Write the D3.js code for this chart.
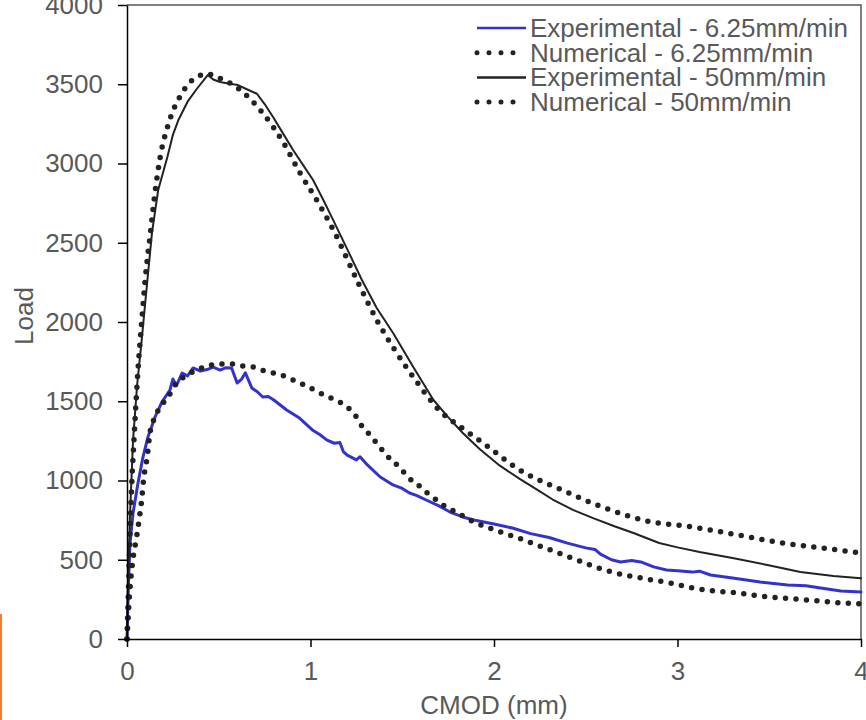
<!DOCTYPE html>
<html>
<head>
<meta charset="utf-8">
<script src="https://cdn.jsdelivr.net/npm/d3@7"></script>
<style>
  body { margin: 0; background: #fff; }
  svg { display: block; font-family: "Liberation Sans", Arial, sans-serif; }
</style>
</head>
<body>
<svg id="chart" width="866" height="720"></svg>
<script>
// CMOD (mm), Load pairs
let exp_slow = [[0,0],[0.008,350],[0.016,600],[0.033,795],[0.06,984],[0.087,1148],[0.114,1274],[0.153,1401],
  [0.19,1495],[0.234,1571],[0.25,1640],[0.27,1600],[0.30,1678],[0.33,1660],[0.36,1710],[0.40,1690],[0.436,1700],
  [0.47,1715],[0.507,1697],[0.54,1712],[0.57,1710],[0.60,1615],[0.625,1640],[0.645,1680],[0.68,1584],[0.71,1560],
  [0.74,1527],[0.77,1530],[0.80,1508],[0.87,1445],[0.94,1394],[1.01,1319],[1.05,1290],[1.09,1255],[1.13,1235],
  [1.16,1240],[1.18,1180],[1.20,1160],[1.25,1130],[1.27,1150],[1.31,1098],[1.38,1022],[1.45,972],[1.50,950],
  [1.54,921],[1.58,905],[1.63,877],[1.70,840],[1.76,801],[1.83,770],[1.89,751],[2.0,725],[2.1,700],[2.2,665],
  [2.3,640],[2.4,605],[2.5,575],[2.55,565],[2.58,535],[2.64,500],[2.69,486],[2.75,495],[2.80,486],[2.87,455],
  [2.94,435],[3.0,430],[3.08,422],[3.12,428],[3.18,404],[3.30,385],[3.45,360],[3.60,341],[3.70,336],[3.78,322],
  [3.89,303],[4.0,297]]

let num_slow = [[0,0],[0.015,300],[0.03,480],[0.054,656],[0.071,795],[0.08,877],[0.09,1003],[0.11,1148],
  [0.125,1300],[0.153,1401],[0.18,1464],[0.22,1520],[0.27,1615],[0.33,1666],[0.38,1697],[0.44,1722],[0.507,1735],
  [0.57,1735],[0.63,1722],[0.69,1716],[0.75,1691],[0.82,1672],[0.87,1653],[0.93,1621],[0.99,1590],[1.04,1558],
  [1.10,1527],[1.16,1495],[1.20,1464],[1.25,1401],[1.28,1344],[1.32,1293],[1.36,1237],[1.40,1180],[1.44,1129],
  [1.49,1079],[1.53,1022],[1.58,978],[1.63,927],[1.68,883],[1.73,839],[1.78,808],[1.84,770],[1.89,738],[2.0,690],
  [2.15,630],[2.3,565],[2.45,500],[2.59,440],[2.71,404],[2.83,379],[2.96,353],[3.08,322],[3.20,303],[3.33,290],
  [3.45,271],[3.57,259],[3.71,246],[3.83,233],[4.0,221]]

let exp_fast = [[0,0],[0.005,300],[0.016,770],[0.033,1255],[0.055,1600],[0.08,1886],[0.11,2250],[0.136,2561],
  [0.17,2833],[0.22,3041],[0.25,3180],[0.28,3274],[0.33,3390],[0.38,3470],[0.44,3558],[0.47,3530],[0.507,3514],
  [0.55,3505],[0.605,3495],[0.65,3470],[0.708,3440],[0.75,3375],[0.796,3293],[0.85,3190],[0.905,3085],[0.96,2990],
  [1.014,2896],[1.07,2770],[1.123,2644],[1.2,2460],[1.28,2265],[1.36,2090],[1.45,1931],[1.56,1716],[1.67,1508],
  [1.75,1400],[1.83,1300],[1.92,1200],[2.03,1095],[2.14,1010],[2.23,945],[2.32,880],[2.43,815],[2.54,763],
  [2.66,710],[2.76,669],[2.90,606],[3.0,578],[3.12,549],[3.30,511],[3.49,467],[3.67,423],[3.85,397],[4.0,383]]

let num_fast = [[0,0],[0.01,400],[0.02,800],[0.04,1300],[0.06,1700],[0.08,2000],[0.1,2280],[0.125,2536],
  [0.153,2820],[0.18,3035],[0.224,3243],[0.30,3445],[0.38,3546],[0.44,3565],[0.50,3540],[0.56,3508],[0.66,3420],
  [0.74,3318],[0.85,3136],[0.94,2946],[1.04,2757],[1.13,2568],[1.26,2246],[1.37,1994],[1.47,1804],[1.58,1621],
  [1.69,1457],[1.84,1319],[1.94,1237],[2.14,1066],[2.37,940],[2.59,833],[2.83,745],[3.08,707],[3.33,656],
  [3.57,606],[3.83,568],[4.0,543]]

let x_ticks = [0, 1, 2, 3, 4]
let y_ticks = [0, 500, 1000, 1500, 2000, 2500, 3000, 3500, 4000]
let legend_labels = ["Experimental - 6.25mm/min", "Numerical - 6.25mm/min", "Experimental - 50mm/min", "Numerical - 50mm/min"]

let margin = {top: 5, right: 5, bottom: 81, left: 127}
let width = 866, height = 720
let text_color = "#595959"

let scales = {
  x: d3.scaleLinear().domain([0, 4]).range([margin.left, width - margin.right]),
  y: d3.scaleLinear().domain([0, 4000]).range([height - margin.bottom, margin.top])
}

let svg = d3.select("#chart")

// frame: top and right edges
svg.append("path")
  .attr("d", `M${scales.x(0)},${scales.y(4000)}H${scales.x(4)}V${scales.y(0)}`)
  .attr("fill", "none")
  .attr("stroke", "#555")
  .attr("stroke-width", 1.5)

let series = [
  {data: exp_slow, color: "#3333cc", width: 3, dotted: false},
  {data: num_slow, color: "#222", width: 5.5, dotted: true},
  {data: exp_fast, color: "#222", width: 2, dotted: false},
  {data: num_fast, color: "#222", width: 5.5, dotted: true}
]

let line_plain = d3.line()
  .x(d => scales.x(d[0]))
  .y(d => scales.y(d[1]))
let line_smooth = d3.line()
  .x(d => scales.x(d[0]))
  .y(d => scales.y(d[1]))
  .curve(d3.curveMonotoneX)

svg.append("g")
  .selectAll("path")
  .data(series).enter()
  .append("path")
  .attr("d", d => d.dotted ? line_smooth(d.data) : line_plain(d.data))
  .attr("fill", "none")
  .attr("stroke", d => d.color)
  .attr("stroke-width", d => d.width)
  .attr("stroke-linejoin", "round")
  .attr("stroke-linecap", "round")
  .attr("stroke-dasharray", d => d.dotted ? "0,10.5" : null)

// axes
let x_axis = svg.append("g")
  .attr("transform", `translate(0, ${scales.y(0)})`)
  .call(d3.axisBottom(scales.x).tickValues(x_ticks).tickFormat(d3.format("d"))
    .tickSize(8).tickSizeOuter(0).tickPadding(15))
let y_axis = svg.append("g")
  .attr("transform", `translate(${scales.x(0)}, 0)`)
  .call(d3.axisLeft(scales.y).tickValues(y_ticks).tickFormat(d3.format("d"))
    .tickSize(9).tickSizeOuter(0).tickPadding(15))

for (let ax of [x_axis, y_axis]) {
  ax.select(".domain").attr("stroke", "#000").attr("stroke-width", 1.5)
  ax.selectAll(".tick line").attr("stroke", "#000").attr("stroke-width", 1.5)
  ax.selectAll(".tick text")
    .attr("fill", text_color)
    .style("font-size", "26px")
    .style("font-family", "Liberation Sans, Arial, sans-serif")
}

// axis titles
svg.append("text")
  .attr("x", (scales.x(0) + scales.x(4)) / 2)
  .attr("y", 714)
  .attr("text-anchor", "middle")
  .attr("fill", text_color)
  .style("font-size", "26px")
  .text("CMOD (mm)")

svg.append("text")
  .attr("transform", "translate(33, 316) rotate(-90)")
  .attr("text-anchor", "middle")
  .attr("fill", text_color)
  .style("font-size", "26px")
  .text("Load")

// legend
let legend = svg.append("g")
  .selectAll("g")
  .data(series).enter()
  .append("g")
  .attr("transform", (d, i) => `translate(0, ${28 + i * 24.7})`)

legend.append("line")
  .attr("x1", 477).attr("x2", d => d.dotted ? 525 : 526)
  .attr("y1", 0).attr("y2", 0)
  .attr("stroke", d => d.color)
  .attr("stroke-width", d => d.dotted ? 5 : 2.5)
  .attr("stroke-linecap", d => d.dotted ? "round" : "butt")
  .attr("stroke-dasharray", d => d.dotted ? "0,12" : null)

legend.append("text")
  .attr("x", 530)
  .attr("y", 9)
  .attr("fill", text_color)
  .style("font-size", "26px")
  .text((d, i) => legend_labels[i])

// stray orange mark at the left edge
svg.append("line")
  .attr("x1", 1).attr("x2", 1)
  .attr("y1", 614).attr("y2", 720)
  .attr("stroke", "#f08030")
  .attr("stroke-width", 2)
</script>
</body>
</html>
